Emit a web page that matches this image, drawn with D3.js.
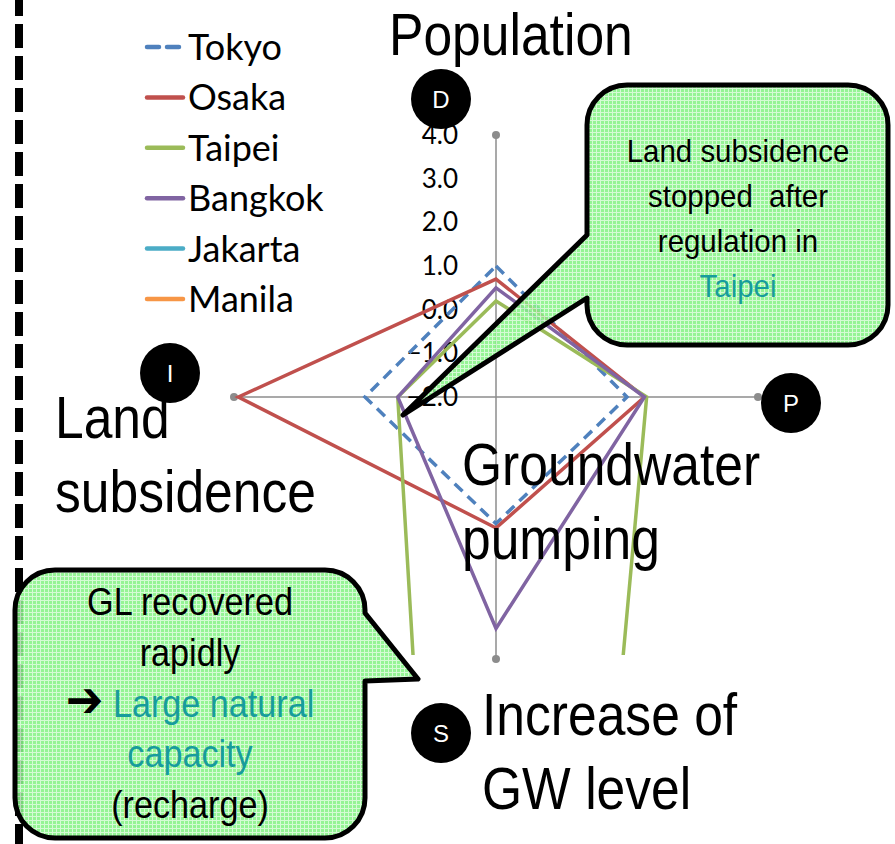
<!DOCTYPE html>
<html>
<head>
<meta charset="utf-8">
<script src="https://cdn.jsdelivr.net/npm/d3@7"></script>
<style>
body { margin: 0; background: #fff; }
svg { display: block; }
.narrow { font-family: "Liberation Sans Narrow", "Arial Narrow", "Liberation Sans", Arial, sans-serif; }
</style>
</head>
<body>
<svg width="895" height="844"></svg>
<script>
var width = 895, height = 844;

// radar categories, clockwise from the top
var axes = ["D", "P", "S", "I"];
var cities = ["Tokyo", "Osaka", "Taipei", "Bangkok", "Jakarta", "Manila"];
var colors = ["#4f81bd", "#c0504d", "#9bbb59", "#8064a2", "#4bacc6", "#f79646"];
var tokyo = [1.0, 1.0, 0.9, 1.0];
var osaka = [0.7, 1.4, 1.0, 3.9];
var taipei = [0.2, 1.45, 36, 0.25];
var bangkok = [0.5, 1.4, 3.3, 0.25];
var jakarta = [];
var manila = [];
var tickValues = [-2, -1, 0, 1, 2, 3, 4];

var seriesValues = [tokyo, osaka, taipei, bangkok, jakarta, manila];

var cx = 496, cy = 397, R = 262;

var svg = d3.select('svg');

var defs = svg.append('defs');
var pat = defs.append('pattern')
    .attr('id', 'greenGrid')
    .attr('patternUnits', 'userSpaceOnUse')
    .attr('width', 4).attr('height', 4);
pat.append('rect').attr('width', 4).attr('height', 4).attr('fill', '#86f286');
pat.append('rect').attr('width', 4).attr('height', 1).attr('fill', '#cffbcf');
pat.append('rect').attr('width', 1).attr('height', 4).attr('fill', '#cffbcf');

defs.append('clipPath').attr('id', 'plotClip')
    .append('rect')
    .attr('x', cx - R - 5).attr('y', cy - R - 5)
    .attr('width', 2 * R + 10).attr('height', 2 * R + 1);

// dashed border at the left
svg.append('line')
    .attr('x1', 19).attr('x2', 19)
    .attr('y1', 0).attr('y2', height)
    .attr('stroke', '#000')
    .attr('stroke-width', 8)
    .attr('stroke-dasharray', '24,8')
    .attr('stroke-dashoffset', 8);

var r = d3.scaleLinear().domain([-2, 4]).range([0, R]);
var angle = d3.scalePoint().domain(axes.concat(['_'])).range([0, 2 * Math.PI]);

var g = svg.append('g').attr('transform', 'translate(' + cx + ',' + cy + ')');

// spokes
axes.forEach(function(a) {
    var t = angle(a);
    var x = R * Math.sin(t), y = -R * Math.cos(t);
    g.append('line')
        .attr('x1', 0).attr('y1', 0).attr('x2', x).attr('y2', y)
        .attr('stroke', '#8c8c8c').attr('stroke-width', 1.5);
    g.append('circle').attr('cx', x).attr('cy', y).attr('r', 4).attr('fill', '#8c8c8c');
});

var line = d3.lineRadial()
    .angle(function(d, i) { return angle(axes[i]); })
    .radius(function(d) { return r(d); })
    .curve(d3.curveLinearClosed);

var lines = svg.append('g').attr('clip-path', 'url(#plotClip)')
    .append('g').attr('transform', 'translate(' + cx + ',' + cy + ')');

lines.selectAll('path')
    .data(seriesValues.map(function(v, i) { return {v: v, i: i}; }).filter(function(d) { return d.v.length; }))
    .enter()
    .append('path')
    .attr('d', function(d) { return line(d.v); })
    .attr('fill', 'none')
    .attr('stroke', function(d) { return colors[d.i]; })
    .attr('stroke-width', 3.5)
    .attr('stroke-linejoin', 'miter')
    .attr('stroke-dasharray', function(d) { return d.i === 0 ? '11,7' : null; });

// tick labels
g.selectAll('.tick')
    .data(tickValues)
    .enter()
    .append('text')
    .attr('x', -38)
    .attr('y', function(d) { return -r(d) + 9; })
    .attr('text-anchor', 'end')
    .style('font-family', 'Lato, sans-serif')
    .style('font-size', '26px')
    .text(function(d) { return d3.format('.1f')(d); });

// legend
var legend = svg.append('g');
cities.forEach(function(c, i) {
    var y = 47 + i * 50.4;
    legend.append('line')
        .attr('x1', 147).attr('x2', 183).attr('y1', y).attr('y2', y)
        .attr('stroke', colors[i]).attr('stroke-width', 4.5)
        .attr('stroke-linecap', 'round')
        .attr('stroke-dasharray', i === 0 ? '12,8' : null);
    legend.append('text')
        .attr('x', 188).attr('y', y + 13)
        .style('font-family', 'Lato, sans-serif')
        .style('font-size', '36px')
        .text(c);
});

// narrow text: regular sans squeezed horizontally
function narrowText(x, y, sx, size, anchor) {
    return svg.append('g')
        .attr('transform', 'translate(' + x + ',' + y + ') scale(' + sx + ',1)')
        .append('text')
        .attr('class', 'narrow')
        .attr('text-anchor', anchor)
        .style('font-size', size + 'px')
        .style('white-space', 'pre');
}

// big axis titles
var titles = [
    {lines: ['Population'], x: 389, y: 55},
    {lines: ['Land', 'subsidence'], x: 55, y: 438},
    {lines: ['Groundwater', 'pumping'], x: 462, y: 485},
    {lines: ['Increase of', 'GW level'], x: 482, y: 735}
];
titles.forEach(function(t) {
    t.lines.forEach(function(s, k) {
        narrowText(t.x, t.y + k * 74, 0.86, 60, 'start').text(s);
    });
});

// axis badges
var badges = [
    {k: 'D', x: 441, y: 99},
    {k: 'I', x: 170, y: 373},
    {k: 'P', x: 791, y: 403},
    {k: 'S', x: 441, y: 733}
];
badges.forEach(function(b) {
    svg.append('circle').attr('cx', b.x).attr('cy', b.y).attr('r', 30).attr('fill', '#000');
    svg.append('text')
        .attr('x', b.x).attr('y', b.y + 9)
        .attr('text-anchor', 'middle')
        .style('font-family', 'Liberation Sans, Arial, sans-serif')
        .style('font-size', '24px')
        .attr('fill', '#fff')
        .text(b.k);
});

// callouts
function callout1() {
    var x0 = 587, y0 = 85, x1 = 888, y1 = 345, rr = 40;
    return 'M' + (x0 + rr) + ',' + y0 + 'H' + (x1 - rr) +
        'A' + rr + ',' + rr + ' 0 0 1 ' + x1 + ',' + (y0 + rr) +
        'V' + (y1 - rr) +
        'A' + rr + ',' + rr + ' 0 0 1 ' + (x1 - rr) + ',' + y1 +
        'H' + (x0 + rr) +
        'A' + rr + ',' + rr + ' 0 0 1 ' + x0 + ',' + (y1 - rr) +
        'V298L403,415L' + x0 + ',235' +
        'V' + (y0 + rr) +
        'A' + rr + ',' + rr + ' 0 0 1 ' + (x0 + rr) + ',' + y0 + 'Z';
}
function callout2() {
    var x0 = 15, y0 = 570, x1 = 365, y1 = 838, rr = 40;
    return 'M' + (x0 + rr) + ',' + y0 + 'H' + (x1 - rr) +
        'A' + rr + ',' + rr + ' 0 0 1 ' + x1 + ',' + (y0 + rr) +
        'V613L418,679L' + x1 + ',681' +
        'V' + (y1 - rr) +
        'A' + rr + ',' + rr + ' 0 0 1 ' + (x1 - rr) + ',' + y1 +
        'H' + (x0 + rr) +
        'A' + rr + ',' + rr + ' 0 0 1 ' + x0 + ',' + (y1 - rr) +
        'V' + (y0 + rr) +
        'A' + rr + ',' + rr + ' 0 0 1 ' + (x0 + rr) + ',' + y0 + 'Z';
}
[callout1(), callout2()].forEach(function(d) {
    svg.append('path')
        .attr('d', d)
        .attr('fill', 'url(#greenGrid)')
        .attr('fill-opacity', 0.88)
        .attr('stroke', '#000')
        .attr('stroke-width', 5)
        .attr('stroke-linejoin', 'round');
});

var teal = '#179c9c';
var note1 = [
    {s: 'Land subsidence', c: '#000'},
    {s: 'stopped  after', c: '#000'},
    {s: 'regulation in', c: '#000'},
    {s: 'Taipei', c: teal}
];
note1.forEach(function(d, i) {
    narrowText(738, 162 + i * 45, 0.92, 32, 'middle')
        .attr('fill', d.c)
        .text(d.s);
});

var note2 = [
    {s: 'GL recovered', c: '#000'},
    {s: 'rapidly', c: '#000'},
    {s: 'Large natural', c: teal, arrow: true},
    {s: 'capacity', c: teal},
    {s: '(recharge)', c: '#000'}
];
note2.forEach(function(d, i) {
    var t = narrowText(190, 615 + i * 50.8, 0.9, 38, 'middle');
    if (d.arrow) {
        t.append('tspan').attr('fill', '#000')
            .style('font-family', 'DejaVu Sans, sans-serif')
            .style('font-size', '50px').style('font-weight', 'bold')
            .text('\u2794');
        t.append('tspan').text(' ');
    }
    t.append('tspan').attr('fill', d.c).text(d.s);
});
</script>
</body>
</html>
